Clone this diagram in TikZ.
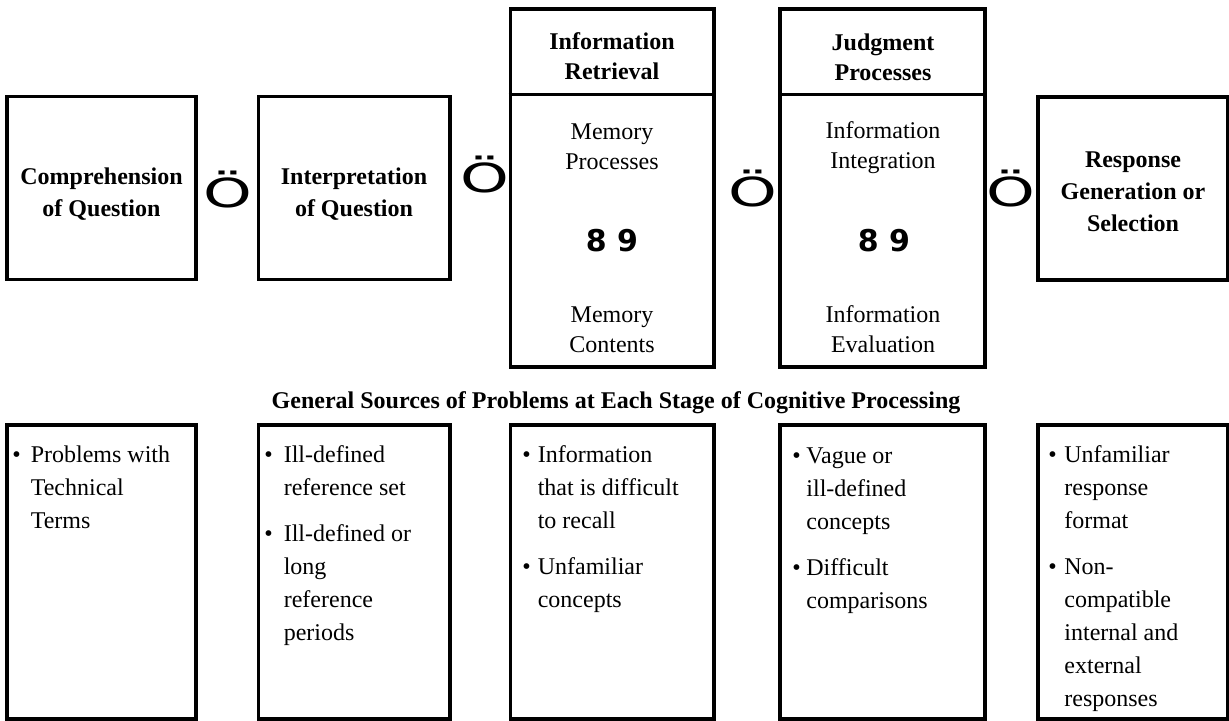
\documentclass[tikz,border=0pt]{standalone}
\usepackage{fontspec}
\usepackage{graphicx}
\setmainfont{Liberation Serif}
\newfontfamily\symfont{DejaVu Sans}

\newcommand{\flowmark}{\scalebox{1.55}[1]{Ö}}
\newcommand{\problist}[2]{\begin{tabular}[t]{@{}l@{\hspace{#1}}l@{}}#2\end{tabular}}

\tikzset{
	stagebox/.style={draw, line width=1.9pt, inner sep=0pt},
	divider/.style={line width=1.6pt},
	boldtext/.style={align=center, anchor=base, inner sep=0pt, font=\bfseries\fontsize{12}{16}\selectfont},
	headtext/.style={boldtext, font=\bfseries\fontsize{12}{15}\selectfont},
	plaintext/.style={align=center, anchor=base, inner sep=0pt, font=\fontsize{12}{15}\selectfont},
	flowsign/.style={anchor=base, inner sep=0pt, font=\symfont\fontsize{20}{20}\selectfont},
	pairsign/.style={anchor=base, inner sep=0pt, font=\symfont\bfseries\fontsize{15}{15}\selectfont},
	probtext/.style={anchor=base west, inner sep=0pt, font=\fontsize{12}{16.5}\selectfont},
}

\begin{document}
\begin{tikzpicture}[x=0.5pt, y=-0.5pt]
	\useasboundingbox (0,0) rectangle (1229,721);

	% stages
	\node[stagebox, minimum width=94.5pt, minimum height=91.5pt] (comp) at (101.5,188) {};
	\node[stagebox, minimum width=95.75pt, minimum height=91.5pt] (interp) at (354.25,188) {};
	\node[stagebox, minimum width=101.75pt, minimum height=179pt] (retr) at (612.25,188) {};
	\node[stagebox, minimum width=102.5pt, minimum height=179pt] (judg) at (882.5,188) {};
	\node[stagebox, minimum width=94.75pt, minimum height=91.5pt] (resp) at (1132.75,188.5) {};

	\draw[divider] ([yshift=-43.75pt]retr.north west) -- ([yshift=-43.75pt]retr.north east);
	\draw[divider] ([yshift=-43.75pt]judg.north west) -- ([yshift=-43.75pt]judg.north east);

	% texts are placed at the baseline of their last line
	\node[boldtext] (comptxt) at (101.5,217) {Comprehension\\of Question};
	\node[boldtext] (interptxt) at (354,217) {Interpretation\\of Question};
	\node[boldtext] (resptxt) at (1133,232) {Response\\Generation or\\Selection};

	\node[headtext] (retrhead) at (612,80) {Information\\Retrieval};
	\node[plaintext] (retrtop) at (612,170) {Memory\\Processes};
	\node[pairsign] (retrpair) at (612,252) {8 9};
	\node[plaintext] (retrbot) at (612,352) {Memory\\Contents};

	\node[headtext] (judghead) at (883,81) {Judgment\\Processes};
	\node[plaintext] (judgtop) at (883,169) {Information\\Integration};
	\node[pairsign] (judgpair) at (884,252) {8 9};
	\node[plaintext] (judgbot) at (883,352) {Information\\Evaluation};

	% signs between the stages
	\node[flowsign] (flow1) at (227.5,208) {\flowmark};
	\node[flowsign] (flow2) at (485,193) {\flowmark};
	\node[flowsign] (flow3) at (753,207) {\flowmark};
	\node[flowsign] (flow4) at (1011,207) {\flowmark};

	% problems
	\node[boldtext] (probtitle) at (616,408) {General Sources of Problems at Each Stage of Cognitive Processing};

	\node[stagebox, minimum width=94.5pt, minimum height=147pt] (prob1) at (101.5,572) {};
	\node[stagebox, minimum width=95.75pt, minimum height=147pt] (prob2) at (354.25,572) {};
	\node[stagebox, minimum width=101.75pt, minimum height=147pt] (prob3) at (612.25,572) {};
	\node[stagebox, minimum width=102.5pt, minimum height=147pt] (prob4) at (882.5,572) {};
	\node[stagebox, minimum width=94.75pt, minimum height=147pt] (prob5) at (1132.75,572) {};

	\node[probtext] (prob1txt) at (12,462) {\problist{5pt}{\textbullet & Problems with\\ & Technical\\ & Terms}};
	\node[probtext] (prob2txt) at (264,462) {\problist{5.5pt}{\textbullet & Ill-defined\\ & reference set\\[6.8pt]
		\textbullet & Ill-defined or\\ & long\\ & reference\\ & periods}};
	\node[probtext] (prob3txt) at (522,462) {\problist{3.5pt}{\textbullet & Information\\ & that is difficult\\ & to recall\\[6.8pt]
		\textbullet & Unfamiliar\\ & concepts}};
	\node[probtext] (prob4txt) at (792,463) {\problist{2.8pt}{\textbullet & Vague or\\ & ill-defined\\ & concepts\\[6.8pt]
		\textbullet & Difficult\\ & comparisons}};
	\node[probtext] (prob5txt) at (1048,462) {\problist{3.8pt}{\textbullet & Unfamiliar\\ & response\\ & format\\[6.8pt]
		\textbullet & Non-\\ & compatible\\ & internal and\\ & external\\ & responses}};
\end{tikzpicture}
\end{document}
